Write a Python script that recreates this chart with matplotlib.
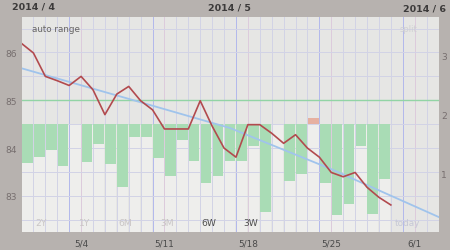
import matplotlib
matplotlib.use("Agg")
import matplotlib.pyplot as plt

# ---------------- data ----------------
month_labels = ["2014 / 4", "2014 / 5", "2014 / 6"]
date_labels = ["5/4", "5/11", "5/18", "5/25", "6/1"]
date_tick_days = [5, 12, 19, 26, 33]
left_ticks = [83, 84, 85, 86]
right_ticks = [1, 2, 3]
range_buttons = ["2Y", "1Y", "6M", "3M", "6W", "3W"]

# weight line (one value per day, day 0 = left edge)
weight_days = list(range(32))
weight = [86.19, 85.99, 85.50, 85.41, 85.31, 85.50, 85.22, 84.70, 85.13, 85.29,
          84.99, 84.80, 84.40, 84.40, 84.40, 84.99, 84.46, 84.00, 83.81, 84.49,
          84.49, 84.31, 84.10, 84.28, 84.00, 83.81, 83.49, 83.40, 83.49, 83.18,
          82.97, 82.81]

# trend line
trend_days = [0, 9, 17.5, 26, 35]
trend = [85.67, 85.03, 84.42, 83.56, 82.56]

target = 85.0
bar_base = 84.5
# bar ends (None = no bar)
bar_days = list(range(31))
bar_ends = [83.69, 83.82, 83.96, 83.63, None, 83.70, 84.09, 83.67, 83.18, 84.23,
            84.23, 83.79, 83.41, 84.17, 83.74, 83.28, 83.42, 83.72, 83.72, 84.04,
            82.67, None, 83.32, 83.45, 84.62, 83.28, 82.59, 82.82, 84.04, 82.62,
            83.35]

W, H = 450, 251
fig = plt.figure(figsize=(W / 100, H / 100), dpi=100, facecolor="#b7b2af")

L, R, T, B = 21.5, 438.5, 17.5, 232.5
ax = fig.add_axes([L / W, 1 - B / H, (R - L) / W, (B - T) / H])
ax.set_facecolor("#e6e6e4")
ylo, yhi = 82.255, 86.753
ax.set_xlim(0, 35)
ax.set_ylim(ylo, yhi)
for s in ax.spines.values():
    s.set_visible(False)

# lighter columns behind bars
ax.bar([d + 0.04 for d in bar_days], [bar_base - ylo] * len(bar_days), bottom=ylo,
       width=0.92, align="edge", color="#eeeeec", zorder=0.5)

# grid
for k in range(1, 35):
    if k % 7 == 4:
        c = "#b2b8ec"
    elif k % 7 == 5:
        c = "#dccbdc"
    else:
        c = "#d2d3e6"
    ax.axvline(k, color=c, lw=0.7, zorder=1)
for i in range(9):
    ax.axhline(82.5 + 0.5 * i, color="#d2d3e6", lw=0.7, zorder=1)

# bars
for d, v in zip(bar_days, bar_ends):
    if v is None:
        continue
    col = "#a9dcb5" if v < bar_base else "#e6b0a0"
    ax.bar(d + 0.04, v - bar_base, bottom=bar_base, width=0.9, align="edge",
           color=col, zorder=2)

ax.axhline(target, color="#92d4a5", lw=1.0, zorder=2.5)
ax.plot(trend_days, trend, color="#a0c4ec", lw=1.3, zorder=3)
ax.plot(weight_days, weight, color="#b24a4e", lw=1.2, zorder=4)

ax.set_yticks(left_ticks)
ax.set_yticklabels([str(t) for t in left_ticks])
ax.tick_params(axis="y", length=0, pad=3.3, labelsize=6.6, labelcolor="#766e6e")
ax.set_xticks(date_tick_days)
ax.set_xticklabels(date_labels)
ax.tick_params(axis="x", length=0, pad=5, labelsize=6.4, labelcolor="#4a4a4a")

ax2 = ax.twinx()
ax2.set_ylim(0.02, 3.652)
ax2.set_yticks(right_ticks)
ax2.set_yticklabels([str(t) for t in right_ticks])
ax2.tick_params(axis="y", length=0, pad=2, labelsize=6.6, labelcolor="#766e6e")
for s in ax2.spines.values():
    s.set_visible(False)


def ftext(x, y, s, **kw):
    fig.text(x / W, 1 - y / H, s, **kw)


for (x, y), s in zip([(34, 7.5), (229.5, 8), (424.7, 9)], month_labels):
    ftext(x, y, s, ha="center", va="center", fontsize=6.8, fontweight="bold",
          color="#3c3a3a")

ftext(31.7, 29.3, "auto range", ha="left", va="center", fontsize=6.3, color="#666464")
ftext(408, 30, "split", ha="center", va="center", fontsize=6.0, color="#cfcfd3")

btn_x = [40.8, 84.3, 125, 166.7, 208.5, 250.5]
btn_c = ["#c9c5c5", "#c9c5c5", "#c9c5c5", "#c9c5c5", "#4e4e4e", "#4e4e4e"]
for x, s, c in zip(btn_x, range_buttons, btn_c):
    ftext(x, 223.3, s, ha="center", va="center", fontsize=6.6, color=c)
ftext(407.8, 224, "today", ha="center", va="center", fontsize=6.4, color="#c6c8d6")

fig.savefig("out.png", dpi=100, facecolor=fig.get_facecolor())
